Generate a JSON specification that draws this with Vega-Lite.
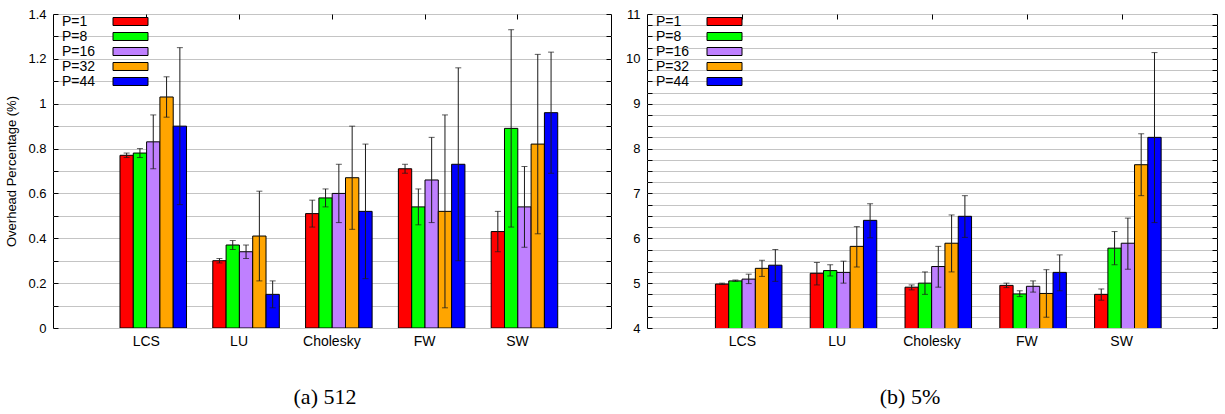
{
  "$schema": "https://vega.github.io/schema/vega-lite/v6.json",
  "background": "white",
  "padding": {"left": 5, "top": 7, "right": 7, "bottom": 0},
  "datasets": {
    "d512": [
      {"bench": "LCS", "P": "P=1", "value": 0.77, "lo": 0.76, "hi": 0.78},
      {"bench": "LCS", "P": "P=8", "value": 0.78, "lo": 0.76, "hi": 0.80},
      {"bench": "LCS", "P": "P=16", "value": 0.83, "lo": 0.71, "hi": 0.95},
      {"bench": "LCS", "P": "P=32", "value": 1.03, "lo": 0.94, "hi": 1.12},
      {"bench": "LCS", "P": "P=44", "value": 0.90, "lo": 0.55, "hi": 1.25},
      {"bench": "LU", "P": "P=1", "value": 0.30, "lo": 0.29, "hi": 0.31},
      {"bench": "LU", "P": "P=8", "value": 0.37, "lo": 0.35, "hi": 0.39},
      {"bench": "LU", "P": "P=16", "value": 0.34, "lo": 0.31, "hi": 0.37},
      {"bench": "LU", "P": "P=32", "value": 0.41, "lo": 0.21, "hi": 0.61},
      {"bench": "LU", "P": "P=44", "value": 0.15, "lo": 0.09, "hi": 0.21},
      {"bench": "Cholesky", "P": "P=1", "value": 0.51, "lo": 0.45, "hi": 0.57},
      {"bench": "Cholesky", "P": "P=8", "value": 0.58, "lo": 0.54, "hi": 0.62},
      {"bench": "Cholesky", "P": "P=16", "value": 0.60, "lo": 0.47, "hi": 0.73},
      {"bench": "Cholesky", "P": "P=32", "value": 0.67, "lo": 0.44, "hi": 0.90},
      {"bench": "Cholesky", "P": "P=44", "value": 0.52, "lo": 0.22, "hi": 0.82},
      {"bench": "FW", "P": "P=1", "value": 0.71, "lo": 0.69, "hi": 0.73},
      {"bench": "FW", "P": "P=8", "value": 0.54, "lo": 0.46, "hi": 0.62},
      {"bench": "FW", "P": "P=16", "value": 0.66, "lo": 0.47, "hi": 0.85},
      {"bench": "FW", "P": "P=32", "value": 0.52, "lo": 0.09, "hi": 0.95},
      {"bench": "FW", "P": "P=44", "value": 0.73, "lo": 0.30, "hi": 1.16},
      {"bench": "SW", "P": "P=1", "value": 0.43, "lo": 0.34, "hi": 0.52},
      {"bench": "SW", "P": "P=8", "value": 0.89, "lo": 0.45, "hi": 1.33},
      {"bench": "SW", "P": "P=16", "value": 0.54, "lo": 0.36, "hi": 0.72},
      {"bench": "SW", "P": "P=32", "value": 0.82, "lo": 0.42, "hi": 1.22},
      {"bench": "SW", "P": "P=44", "value": 0.96, "lo": 0.69, "hi": 1.23}
    ],
    "d5": [
      {"bench": "LCS", "P": "P=1", "value": 4.98, "lo": 4.97, "hi": 5.00},
      {"bench": "LCS", "P": "P=8", "value": 5.05, "lo": 5.04, "hi": 5.07},
      {"bench": "LCS", "P": "P=16", "value": 5.09, "lo": 4.99, "hi": 5.20},
      {"bench": "LCS", "P": "P=32", "value": 5.33, "lo": 5.15, "hi": 5.51},
      {"bench": "LCS", "P": "P=44", "value": 5.40, "lo": 5.04, "hi": 5.75},
      {"bench": "LU", "P": "P=1", "value": 5.22, "lo": 4.96, "hi": 5.46},
      {"bench": "LU", "P": "P=8", "value": 5.28, "lo": 5.16, "hi": 5.41},
      {"bench": "LU", "P": "P=16", "value": 5.24, "lo": 5.00, "hi": 5.49},
      {"bench": "LU", "P": "P=32", "value": 5.82, "lo": 5.36, "hi": 6.26},
      {"bench": "LU", "P": "P=44", "value": 6.40, "lo": 6.01, "hi": 6.77},
      {"bench": "Cholesky", "P": "P=1", "value": 4.91, "lo": 4.85, "hi": 4.96},
      {"bench": "Cholesky", "P": "P=8", "value": 5.00, "lo": 4.75, "hi": 5.25},
      {"bench": "Cholesky", "P": "P=16", "value": 5.37, "lo": 4.91, "hi": 5.82},
      {"bench": "Cholesky", "P": "P=32", "value": 5.89, "lo": 5.25, "hi": 6.52},
      {"bench": "Cholesky", "P": "P=44", "value": 6.49, "lo": 6.02, "hi": 6.95},
      {"bench": "FW", "P": "P=1", "value": 4.95, "lo": 4.90, "hi": 5.00},
      {"bench": "FW", "P": "P=8", "value": 4.76, "lo": 4.70, "hi": 4.83},
      {"bench": "FW", "P": "P=16", "value": 4.93, "lo": 4.80, "hi": 5.05},
      {"bench": "FW", "P": "P=32", "value": 4.77, "lo": 4.24, "hi": 5.30},
      {"bench": "FW", "P": "P=44", "value": 5.24, "lo": 4.83, "hi": 5.63},
      {"bench": "SW", "P": "P=1", "value": 4.75, "lo": 4.62, "hi": 4.87},
      {"bench": "SW", "P": "P=8", "value": 5.78, "lo": 5.41, "hi": 6.15},
      {"bench": "SW", "P": "P=16", "value": 5.89, "lo": 5.31, "hi": 6.45},
      {"bench": "SW", "P": "P=32", "value": 7.64, "lo": 6.95, "hi": 8.33},
      {"bench": "SW", "P": "P=44", "value": 8.25, "lo": 6.35, "hi": 10.14}
    ]
  },
  "config": {
    "font": "Liberation Sans",
    "view": {"stroke": "black", "strokeWidth": 1},
    "axis": {
      "labelFont": "Liberation Sans", "labelFontSize": 13, "labelColor": "black",
      "titleFont": "Liberation Sans", "titleFontSize": 13, "titleFontWeight": "normal", "titleColor": "black",
      "domain": false, "gridColor": "#c4c4c4", "gridWidth": 1.2, "gridOpacity": 1, "tickColor": "black"
    },
    "legend": {
      "orient": "none", "legendX": 70, "legendY": 0, "padding": 0,
      "symbolType": "M-2.5,-0.57H2.5V0.57H-2.5Z", "symbolSize": 196,
      "symbolStrokeColor": "black", "symbolStrokeWidth": 1, "symbolOpacity": 1,
      "labelFont": "Liberation Sans", "labelFontSize": 14, "labelColor": "black",
      "labelOffset": -76, "labelAlign": "left"
    },
    "title": {"font": "Liberation Serif", "fontSize": 22, "fontWeight": "normal", "color": "black", "orient": "bottom", "anchor": "middle", "offset": 39},
    "concat": {"spacing": 36}
  },
  "bounds": "flush",
  "resolve": {"scale": {"fill": "independent"}, "legend": {"fill": "independent"}},
  "hconcat": [
    {
      "width": 558, "height": 314,
      "title": {"text": "(a) 512", "dx": -7},
      "data": {"name": "d512"},
      "resolve": {"axis": {"x": "independent", "y": "independent"}},
      "layer": [
        {
          "mark": {"type": "bar", "stroke": "black", "strokeWidth": 1, "clip": true},
          "encoding": {
            "x": {"field": "bench", "type": "nominal", "sort": ["LCS", "LU", "Cholesky", "FW", "SW"],
                  "scale": {"paddingInner": 0.283, "paddingOuter": 0.648, "align": 0.557},
                  "axis": {"title": null, "labelAngle": 0, "ticks": false, "labelPadding": 6, "labelFontSize": 14, "labelOffset": -7, "grid": false}},
            "xOffset": {"field": "P", "type": "nominal", "sort": ["P=1", "P=8", "P=16", "P=32", "P=44"], "scale": {"paddingInner": 0, "paddingOuter": 0}},
            "y": {"field": "value", "type": "quantitative", "scale": {"domain": [0, 1.4], "nice": false, "zero": false},
                  "axis": {"title": "Overhead Percentage (%)", "values": [0, 0.1, 0.2, 0.3, 0.4, 0.5, 0.6, 0.7, 0.8, 0.9, 1.0, 1.1, 1.2, 1.3, 1.4],
                           "format": "~g", "labelExpr": "round(datum.value*10) % 2 == 0 ? datum.label : ''",
                           "grid": true, "ticks": true, "tickSize": -5, "labelPadding": 12, "titlePadding": 9}},
            "fill": {"field": "P", "type": "nominal",
                     "scale": {"domain": ["P=1", "P=8", "P=16", "P=32", "P=44"], "range": ["#ff0000", "#00ff00", "#bf80ff", "#ffa500", "#0000ff"]},
                     "legend": {"title": null, "rowPadding": -1.5}}
          }
        },
        {
          "mark": {"type": "rule", "color": "#1a1a1a", "strokeWidth": 1},
          "encoding": {
            "x": {"field": "bench", "type": "nominal", "sort": ["LCS", "LU", "Cholesky", "FW", "SW"],
                  "axis": {"orient": "top", "title": null, "labels": false, "grid": false, "ticks": true, "tickSize": -5, "tickOffset": -7}},
            "xOffset": {"field": "P", "type": "nominal", "sort": ["P=1", "P=8", "P=16", "P=32", "P=44"]},
            "y": {"field": "lo", "type": "quantitative",
                  "axis": {"orient": "right", "title": null, "labels": false, "grid": false, "ticks": true, "tickSize": -5,
                           "values": [0, 0.1, 0.2, 0.3, 0.4, 0.5, 0.6, 0.7, 0.8, 0.9, 1.0, 1.1, 1.2, 1.3, 1.4]}},
            "y2": {"field": "hi"}
          }
        },
        {
          "transform": [{"fold": ["lo", "hi"], "as": ["end", "ev"]}],
          "mark": {"type": "tick", "color": "#1a1a1a", "thickness": 1, "size": 6, "orient": "horizontal"},
          "encoding": {
            "x": {"field": "bench", "type": "nominal", "sort": ["LCS", "LU", "Cholesky", "FW", "SW"], "axis": null},
            "xOffset": {"field": "P", "type": "nominal", "sort": ["P=1", "P=8", "P=16", "P=32", "P=44"]},
            "y": {"field": "ev", "type": "quantitative", "axis": null}
          }
        }
      ]
    },
    {
      "width": 570, "height": 314,
      "title": {"text": "(b) 5%", "dx": -22},
      "data": {"name": "d5"},
      "resolve": {"axis": {"x": "independent", "y": "independent"}},
      "layer": [
        {
          "mark": {"type": "bar", "stroke": "black", "strokeWidth": 1, "clip": true},
          "encoding": {
            "x": {"field": "bench", "type": "nominal", "sort": ["LCS", "LU", "Cholesky", "FW", "SW"],
                  "scale": {"paddingInner": 0.283, "paddingOuter": 0.648, "align": 0.557},
                  "axis": {"title": null, "labelAngle": 0, "ticks": false, "labelPadding": 6, "labelFontSize": 14, "labelOffset": -7, "grid": false}},
            "xOffset": {"field": "P", "type": "nominal", "sort": ["P=1", "P=8", "P=16", "P=32", "P=44"], "scale": {"paddingInner": 0, "paddingOuter": 0}},
            "y": {"field": "value", "type": "quantitative", "scale": {"domain": [4, 11], "nice": false, "zero": false},
                  "axis": {"title": null, "values": [4, 4.25, 4.5, 4.75, 5, 5.25, 5.5, 5.75, 6, 6.25, 6.5, 6.75, 7, 7.25, 7.5, 7.75, 8, 8.25, 8.5, 8.75, 9, 9.25, 9.5, 9.75, 10, 10.25, 10.5, 10.75, 11],
                           "format": "~g", "labelExpr": "datum.value % 1 == 0 ? datum.label : ''",
                           "grid": true, "ticks": true, "tickSize": -5, "labelPadding": 12}},
            "fill": {"field": "P", "type": "nominal",
                     "scale": {"domain": ["P=1", "P=8", "P=16", "P=32", "P=44"], "range": ["#ff0000", "#00ff00", "#bf80ff", "#ffa500", "#0000ff"]},
                     "legend": {"title": null, "rowPadding": -1.5}}
          }
        },
        {
          "mark": {"type": "rule", "color": "#1a1a1a", "strokeWidth": 1},
          "encoding": {
            "x": {"field": "bench", "type": "nominal", "sort": ["LCS", "LU", "Cholesky", "FW", "SW"],
                  "axis": {"orient": "top", "title": null, "labels": false, "grid": false, "ticks": true, "tickSize": -5, "tickOffset": -7}},
            "xOffset": {"field": "P", "type": "nominal", "sort": ["P=1", "P=8", "P=16", "P=32", "P=44"]},
            "y": {"field": "lo", "type": "quantitative",
                  "axis": {"orient": "right", "title": null, "labels": false, "grid": false, "ticks": true, "tickSize": -5,
                           "values": [4, 4.25, 4.5, 4.75, 5, 5.25, 5.5, 5.75, 6, 6.25, 6.5, 6.75, 7, 7.25, 7.5, 7.75, 8, 8.25, 8.5, 8.75, 9, 9.25, 9.5, 9.75, 10, 10.25, 10.5, 10.75, 11]}},
            "y2": {"field": "hi"}
          }
        },
        {
          "transform": [{"fold": ["lo", "hi"], "as": ["end", "ev"]}],
          "mark": {"type": "tick", "color": "#1a1a1a", "thickness": 1, "size": 6, "orient": "horizontal"},
          "encoding": {
            "x": {"field": "bench", "type": "nominal", "sort": ["LCS", "LU", "Cholesky", "FW", "SW"], "axis": null},
            "xOffset": {"field": "P", "type": "nominal", "sort": ["P=1", "P=8", "P=16", "P=32", "P=44"]},
            "y": {"field": "ev", "type": "quantitative", "axis": null}
          }
        }
      ]
    }
  ]
}
